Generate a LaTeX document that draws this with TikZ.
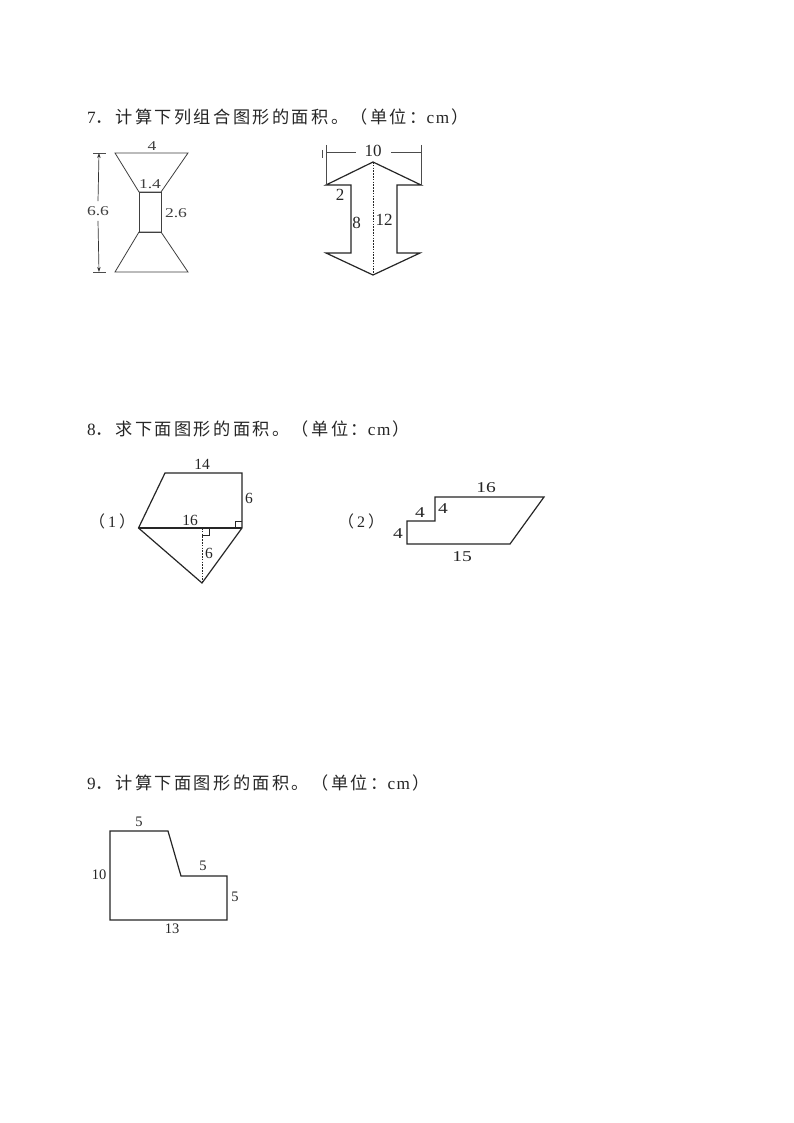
\documentclass[tikz,border=0pt]{standalone}
\usepackage{fontspec}
\setmainfont{Liberation Serif}
\newfontfamily\cjk[LetterSpace=14]{Noto Sans CJK SC}
\newfontfamily\cjkplain{Noto Sans CJK SC}
\newfontfamily\wideserif[FakeStretch=1.3]{Liberation Serif}
\usetikzlibrary{arrows.meta}
\begin{document}
\begin{tikzpicture}[x=1pt,y=-1pt,
  title/.style={anchor=west,inner sep=0pt,font=\fontsize{17.2}{17.2}\selectfont,text=black!85},
  lab/.style={inner sep=0pt,font=\fontsize{15.5}{15.5}\selectfont,text=black!85},
  labs/.style={inner sep=0pt,font=\fontsize{14.5}{14.5}\selectfont,text=black!85},
  labb/.style={inner sep=0pt,font=\fontsize{17}{17}\selectfont,text=black!85},
  labw/.style={inner sep=0pt,font=\wideserif\fontsize{13.5}{13.5}\selectfont,text=black!75},
  labx/.style={inner sep=0pt,font=\wideserif\fontsize{15}{15}\selectfont,text=black!85},
  labp/.style={inner sep=0pt,font=\fontsize{16}{16}\selectfont,text=black!85},
  fig/.style={draw=black!85,line width=1.2pt,line join=miter},
  heavy fig/.style={draw=black!85,line width=1.2pt,line join=miter},
  thin fig/.style={draw=black!75,line width=0.8pt},
  guide/.style={draw=black!70,line width=0.8pt},
  dimarrow/.style={draw=black!80,line width=0.7pt,-{Stealth[length=5pt,width=3.5pt]}},
  dots/.style={draw=black!85,line width=0.9pt,dash pattern=on 1.6pt off 1.2pt}]
\useasboundingbox (0,0) rectangle (794,1123);
\fill[white] (0,0) rectangle (794,1123);

% Titles
\node[title] (t7) at (87,117) {7{\cjk ．计算下列组合图形的面积。（单位：}c\hspace{1.5pt}m\hspace{2.5pt}{\cjkplain ）}};
\node[title] (t8) at (87,429) {8{\cjk ．求下面图形的面积。（单位：}c\hspace{1.5pt}m\hspace{2.5pt}{\cjkplain ）}};
\node[title] (t9) at (87,783) {9{\cjk ．计算下面图形的面积。（单位：}c\hspace{1.5pt}m\hspace{2.5pt}{\cjkplain ）}};

% Figure 7a: hourglass
\draw[thin fig] (115,153) -- (188,153) -- (161,192) -- (139,192) -- cycle;
\draw[thin fig] (139,192) rectangle (161,232);
\draw[thin fig] (139,232) -- (161,232) -- (188,272) -- (115,272) -- cycle;
\coordinate (dimT) at (99,153);
\coordinate (dimB) at (99,272);
\draw[guide] (93,153) -- (106,153);
\draw[guide] (93,272) -- (106,272);
\node[labw] (l66) at (98,211) {6.6};
\draw[dimarrow] (l66.north) ++(0,-5) -- (dimT);
\draw[dimarrow] (l66.south) ++(0,5) -- (dimB);
\node[labw] (l4a) at (152,146) {4};
\node[labw] (l14) at (150,184) {1.4};
\node[labw] (l26) at (176,213) {2.6};

% Figure 7b: double arrow
\draw[heavy fig] (326,185) -- (373,162) -- (421,185) -- (397,185) -- (397,253) -- (420,253)
  -- (373,275) -- (326,253) -- (351,253) -- (351,185) -- cycle;
\draw[guide] (326,145) -- (326,185);
\draw[guide] (421,145) -- (421,185);
\draw[guide] (322,150) -- (322,158);
\node[labb] (l10) at (373,151) {10};
\draw[guide] (326,152) -- (356,152);
\draw[guide] (391,152) -- (421,152);
\draw[dots] (373,162) -- (373,275);
\node[labb] (l2) at (340,195) {2};
\node[labb] (l8) at (356.5,223) {8};
\node[labb] (l12) at (384,220) {12};

% Figure 8(1)
\draw[fig] (138.5,528) -- (165,473) -- (242,473) -- (242,528) -- (202,583) -- cycle;
\draw[fig] (138.5,528) -- (242,528);
\draw[dots] (202,528) -- (202,583);
\draw[draw=black!85,line width=0.8pt] (202,528) -- (209,528) -- (209,535) -- (202,535);
\draw[draw=black!85,line width=0.8pt] (235,528) -- (235,521) -- (242,521);
\node[labp] (n1) at (112,521) {{\cjkplain （}\hspace{3pt}1\hspace{3pt}{\cjkplain ）}};
\node[lab] (l14b) at (202,464) {14};
\node[lab] (l6a) at (249,498) {6};
\node[lab] (l16a) at (190,520) {16};
\node[lab] (l6b) at (209,553) {6};

% Figure 8(2)
\draw[fig] (407,544) -- (407,521) -- (435,521) -- (435,497) -- (544,497) -- (510,544) -- cycle;
\node[labp] (n2) at (361,521) {{\cjkplain （}\hspace{3pt}2\hspace{3pt}{\cjkplain ）}};
\node[labx] (l16b) at (486,488) {16};
\node[labx] (l4b) at (420,513) {4};
\node[labx] (l4c) at (443,509) {4};
\node[labx] (l4d) at (398,534) {4};
\node[labx] (l15) at (462,557) {15};

% Figure 9
\draw[fig] (110,831) -- (168,831) -- (181,876) -- (227,876) -- (227,920) -- (110,920) -- cycle;
\node[labs] (l5a) at (139,822) {5};
\node[labs] (l5b) at (203,866) {5};
\node[labs] (l10b) at (99,875) {10};
\node[labs] (l5c) at (235,897) {5};
\node[labs] (l13) at (172,929) {13};
\end{tikzpicture}
\end{document}
